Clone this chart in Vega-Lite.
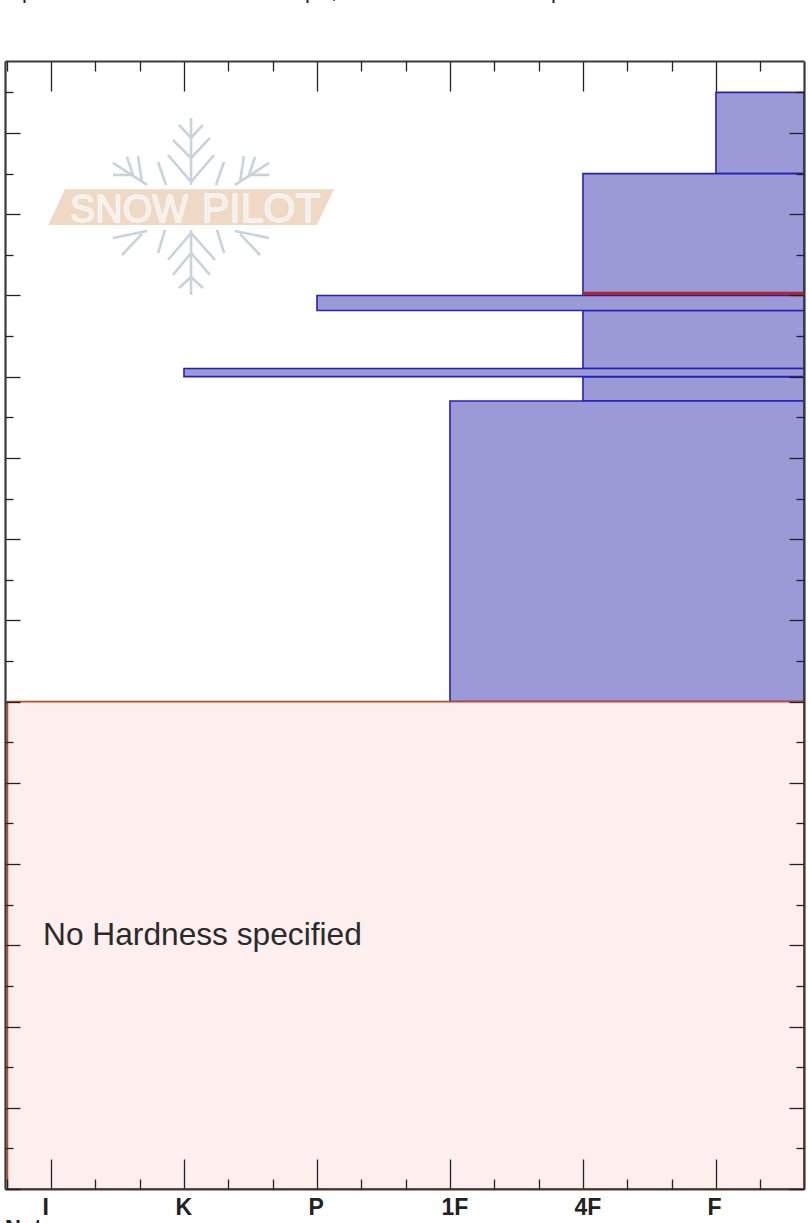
{"$schema":"https://vega.github.io/schema/vega-lite/v6.json","width":799,"height":1128,"autosize":"none","padding":{"left":5,"top":61,"right":5,"bottom":34},"background":"white","config":{"view":{"stroke":null},"axis":{"title":null,"grid":false,"tickColor":"#222","tickWidth":1.3,"domainColor":"#3a3a3a","domainWidth":2.2,"labelFont":"Liberation Sans","labelFontWeight":"bold","labelFontSize":23,"labelColor":"#222"}},"datasets":{"layers":[{"layer":"a","h1":5,"h2":5.662,"top":135,"bottom":125},{"layer":"b","h1":4,"h2":5.662,"top":125,"bottom":110},{"layer":"d","h1":4,"h2":5.662,"top":108.15,"bottom":101},{"layer":"f","h1":4,"h2":5.662,"top":100,"bottom":97},{"layer":"g","h1":3,"h2":5.662,"top":97,"bottom":60},{"layer":"c","h1":2,"h2":5.662,"top":110,"bottom":108.15},{"layer":"e","h1":1,"h2":5.662,"top":101,"bottom":100}],"seg":[{"x":1.053,"y":131.85,"x2":1.053,"y2":123.6},{"x":0.88,"y":127.29,"x2":1.053,"y2":123.97},{"x":1.226,"y":127.29,"x2":1.053,"y2":123.97},{"x":0.917,"y":129.14,"x2":1.053,"y2":126.92},{"x":1.195,"y":129.39,"x2":1.053,"y2":126.92},{"x":0.962,"y":130.99,"x2":1.053,"y2":129.39},{"x":1.143,"y":130.99,"x2":1.053,"y2":129.39},{"x":1.053,"y":118.06,"x2":1.053,"y2":110.06},{"x":0.88,"y":114.37,"x2":1.053,"y2":117.69},{"x":1.233,"y":114.37,"x2":1.053,"y2":117.69},{"x":0.917,"y":112.52,"x2":1.053,"y2":115.23},{"x":1.195,"y":112.52,"x2":1.053,"y2":115.23},{"x":0.962,"y":110.92,"x2":1.053,"y2":112.27},{"x":1.143,"y":110.92,"x2":1.053,"y2":112.27},{"x":0.466,"y":126.31,"x2":0.722,"y2":123.6},{"x":0.466,"y":124.83,"x2":0.617,"y2":124.83},{"x":0.571,"y":127.05,"x2":0.617,"y2":124.83},{"x":0.654,"y":127.17,"x2":0.684,"y2":123.97},{"x":0.805,"y":126.43,"x2":0.865,"y2":123.6},{"x":1.639,"y":126.31,"x2":1.383,"y2":123.6},{"x":1.639,"y":124.83,"x2":1.489,"y2":124.83},{"x":1.534,"y":127.05,"x2":1.489,"y2":124.83},{"x":1.451,"y":127.17,"x2":1.421,"y2":123.97},{"x":1.301,"y":126.43,"x2":1.241,"y2":123.6},{"x":0.466,"y":117.08,"x2":0.722,"y2":117.94},{"x":0.534,"y":114.98,"x2":0.684,"y2":117.57},{"x":0.805,"y":115.23,"x2":0.857,"y2":118.06},{"x":1.639,"y":117.08,"x2":1.383,"y2":117.94},{"x":1.571,"y":114.98,"x2":1.421,"y2":117.57},{"x":1.301,"y":115.23,"x2":1.248,"y2":118.06}],"banner":[{"x":-0.02,"y":118.68,"y2":118.68},{"x":0.105,"y":123.07,"y2":118.68},{"x":1.998,"y":123.07,"y2":118.68},{"x":2.128,"y":123.07,"y2":123.07}]},"layer":[{"data":{"name":"banner"},"mark":{"type":"area","fill":"#efd9c5","opacity":1,"clip":false},"encoding":{"x":{"field":"x","type":"quantitative","scale":{"domain":[-0.3459,5.662],"nice":false,"zero":false},"axis":null},"y":{"field":"y","type":"quantitative","scale":{"domain":[0,138.86],"nice":false,"zero":false},"axis":null},"y2":{"field":"y2"}}},{"data":{"name":"seg"},"mark":{"type":"rule","color":"#c6d4db","strokeWidth":2.6},"encoding":{"x":{"field":"x","type":"quantitative","axis":null},"y":{"field":"y","type":"quantitative","axis":null},"x2":{"field":"x2"},"y2":{"field":"y2"}}},{"data":{"values":[{"t":"SNOW","x":0.143,"y":119.1,"s":38},{"t":"PILOT","x":1.135,"y":119.1,"s":41}]},"mark":{"type":"text","align":"left","baseline":"alphabetic","font":"Liberation Sans","fill":"#f1eeea","stroke":"#ffffff","strokeWidth":0.8},"encoding":{"x":{"field":"x","type":"quantitative","axis":null},"y":{"field":"y","type":"quantitative","axis":null},"text":{"field":"t"},"size":{"field":"s","type":"quantitative","scale":null}}},{"data":{"name":"layers"},"mark":{"type":"rect","fill":"#9c9ad6","stroke":"#2222b8","strokeWidth":1.6},"encoding":{"x":{"field":"h1","type":"quantitative","axis":null},"x2":{"field":"h2"},"y":{"field":"top","type":"quantitative","axis":null},"y2":{"field":"bottom"}}},{"data":{"values":[{"x":4,"x2":5.662,"y":110.46,"y2":110.06}]},"mark":{"type":"rect","fill":"#b3262c"},"encoding":{"x":{"field":"x","type":"quantitative","axis":null},"x2":{"field":"x2"},"y":{"field":"y","type":"quantitative","axis":null},"y2":{"field":"y2"}}},{"data":{"values":[{"x":-0.328,"x2":5.662,"y":60,"y2":0}]},"mark":{"type":"rect","fill":"#feefef","stroke":"#c24a20","strokeWidth":1.8},"encoding":{"x":{"field":"x","type":"quantitative","axis":{"zindex":1,"orient":"bottom","values":[0,1,2,3,4,5],"tickSize":-30,"labelPadding":37,"labelAlign":"left","labelBaseline":"top","labelOffset":-9,"labelOverlap":false,"labelFlush":false,"labelBound":false,"labelExpr":"['I','K','P','1F','4F','F'][datum.value]"}},"x2":{"field":"x2"},"y":{"field":"y","type":"quantitative","axis":{"zindex":1,"orient":"left","values":[0,10,20,30,40,50,60,70,80,90,100,110,120,130],"tickSize":-15,"labels":false}},"y2":{"field":"y2"}}},{"data":{"values":[{"t":"No Hardness specified","x":-0.06,"y":30.04}]},"mark":{"type":"text","align":"left","baseline":"alphabetic","font":"Liberation Sans","fontSize":31.7,"color":"#2a2a2a"},"encoding":{"x":{"field":"x","type":"quantitative","axis":{"zindex":1,"orient":"bottom","values":[-0.3333,0.3333,0.6667,1.3333,1.6667,2.3333,2.6667,3.3333,3.6667,4.3333,4.6667,5.3333],"tickSize":-10,"labels":false,"domain":false}},"y":{"field":"y","type":"quantitative","axis":{"zindex":1,"orient":"left","values":[5,15,25,35,45,55,65,75,85,95,105,115,125,135],"tickSize":-8,"labels":false,"domain":false}},"text":{"field":"t"}}},{"data":{"values":[{"t":"p","x":-0.218,"y":146.56,"w":"bold"},{"t":"p","x":1.91,"y":146.56,"w":"normal"},{"t":",","x":2.105,"y":146.56,"w":"normal"},{"t":"p","x":3.759,"y":146.56,"w":"normal"}]},"mark":{"type":"text","align":"left","baseline":"alphabetic","font":"Liberation Sans","fontSize":22,"color":"#222","clip":false},"encoding":{"x":{"field":"x","type":"quantitative","axis":{"zindex":1,"orient":"top","values":[0,1,2,3,4,5],"tickSize":-30,"labels":false}},"y":{"field":"y","type":"quantitative","axis":{"zindex":1,"orient":"right","values":[0,10,20,30,40,50,60,70,80,90,100,110,120,130],"tickSize":-15,"labels":false}},"text":{"field":"t"},"fontWeight":{"field":"w","type":"nominal","scale":null}}},{"data":{"values":[{"t":"Notes:","x":-0.346,"y":-5.66}]},"mark":{"type":"text","align":"left","baseline":"alphabetic","font":"Liberation Sans","fontSize":22,"fontWeight":"bold","color":"#222","clip":false},"encoding":{"x":{"field":"x","type":"quantitative","axis":{"zindex":1,"orient":"top","values":[-0.3333,0.3333,0.6667,1.3333,1.6667,2.3333,2.6667,3.3333,3.6667,4.3333,4.6667,5.3333],"tickSize":-10,"labels":false,"domain":false}},"y":{"field":"y","type":"quantitative","axis":{"zindex":1,"orient":"right","values":[5,15,25,35,45,55,65,75,85,95,105,115,125,135],"tickSize":-8,"labels":false,"domain":false}},"text":{"field":"t"}}}],"resolve":{"axis":{"x":"independent","y":"independent"}}}
